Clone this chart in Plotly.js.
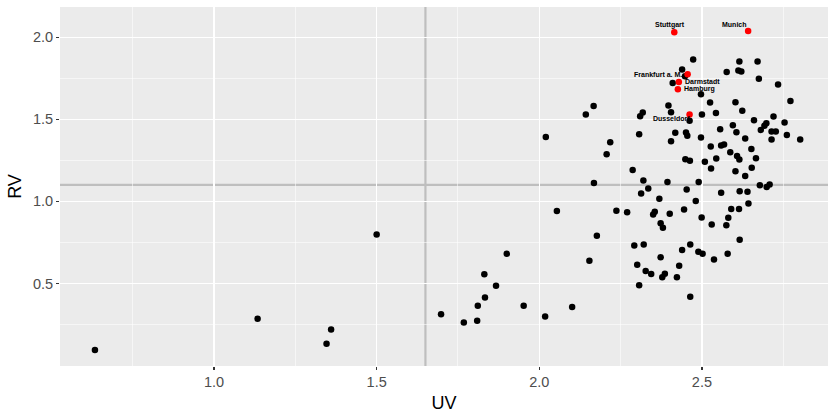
<!DOCTYPE html>
<html>
<head>
<meta charset="utf-8">
<script src="https://cdn.plot.ly/plotly-3.0.1.min.js"></script>
<style>
  html, body { margin: 0; padding: 0; background: #ffffff; }
  #chart { width: 828px; height: 413px; }
</style>
</head>
<body>
<div id="chart"></div>
<script>
// ---- data ----
const uv = [
  2.473, 2.439, 2.448, 2.410, 2.167, 2.143, 2.397, 2.405, 2.318, 2.310,
  2.462, 2.307, 2.418, 2.451, 2.455, 2.405, 2.218, 2.207, 2.449, 2.463,
  2.615, 2.671, 2.576, 2.612, 2.621, 2.675, 2.734, 2.497, 2.525, 2.603,
  2.624, 2.772, 2.500, 2.543, 2.660, 2.720, 2.754, 2.698, 2.692, 2.681,
  2.714, 2.727, 2.595, 2.556, 2.606, 2.761, 2.497, 2.633, 2.714, 2.802,
  2.527, 2.559, 2.568, 2.587, 2.652, 2.608, 2.615, 2.544, 2.666, 2.509,
  2.528, 2.603, 2.653, 2.633, 2.287, 2.320, 2.394, 2.490, 2.335, 2.453,
  2.313, 2.559, 2.616, 2.640, 2.678, 2.699, 2.708, 2.369, 2.481, 2.643,
  2.237, 2.270, 2.355, 2.350, 2.401, 2.445, 2.590, 2.614, 2.499, 2.581,
  2.373, 2.380, 2.530, 2.575, 2.616, 2.292, 2.321, 2.439, 2.464, 2.489,
  2.502, 2.373, 2.537, 2.579, 2.168, 2.054, 2.177, 2.154, 2.301, 2.327,
  2.344, 2.430, 2.378, 2.386, 2.423, 2.307, 2.464, 2.020, 1.900, 1.831,
  1.867, 1.833, 1.811, 1.698, 1.768, 1.809, 1.952, 2.018, 2.101, 0.634,
  1.134, 1.360, 1.346, 1.500
];
const rv = [
  1.864, 1.803, 1.762, 1.721, 1.580, 1.529, 1.584, 1.543, 1.541, 1.518,
  1.490, 1.409, 1.418, 1.419, 1.399, 1.366, 1.360, 1.287, 1.256, 1.247,
  1.852, 1.851, 1.788, 1.797, 1.790, 1.747, 1.712, 1.652, 1.601, 1.604,
  1.552, 1.611, 1.529, 1.538, 1.494, 1.517, 1.480, 1.476, 1.460, 1.435,
  1.425, 1.425, 1.463, 1.439, 1.420, 1.404, 1.388, 1.383, 1.376, 1.377,
  1.334, 1.340, 1.346, 1.299, 1.318, 1.276, 1.255, 1.261, 1.263, 1.241,
  1.200, 1.183, 1.204, 1.154, 1.191, 1.127, 1.118, 1.118, 1.079, 1.072,
  1.048, 1.053, 1.062, 1.058, 1.098, 1.087, 1.102, 1.016, 1.002, 0.987,
  0.943, 0.934, 0.937, 0.920, 0.925, 0.951, 0.954, 0.954, 0.902, 0.901,
  0.867, 0.840, 0.859, 0.855, 0.767, 0.732, 0.737, 0.704, 0.737, 0.693,
  0.681, 0.660, 0.646, 0.681, 1.112, 0.941, 0.790, 0.639, 0.615, 0.576,
  0.558, 0.608, 0.538, 0.559, 0.538, 0.490, 0.419, 1.392, 0.681, 0.557,
  0.486, 0.415, 0.364, 0.313, 0.262, 0.274, 0.364, 0.299, 0.357, 0.096,
  0.285, 0.220, 0.134, 0.799
];
const cities = ["Stuttgart", "Munich", "Frankfurt a. M.", "Darmstadt", "Hamburg", "Dusseldorf"];
const cityUV = [2.415, 2.642, 2.456, 2.429, 2.426, 2.462];
const cityRV = [2.029, 2.037, 1.774, 1.727, 1.683, 1.529];
const uvRef = 1.65;
const rvRef = 1.1;
const xTicks = [1.0, 1.5, 2.0, 2.5];
const yTicks = [0.5, 1.0, 1.5, 2.0];

// ---- label placement (styling) ----
const labelStyle = {
  "Stuttgart":       {xanchor: "center", xshift: -4,  yshift: 7},
  "Munich":          {xanchor: "center", xshift: -14, yshift: 6},
  "Frankfurt a. M.": {xanchor: "right",  xshift: -4,  yshift: 0},
  "Darmstadt":       {xanchor: "left",   xshift: 4,   yshift: 0},
  "Hamburg":         {xanchor: "left",   xshift: 4,   yshift: 0},
  "Dusseldorf":      {xanchor: "right",  xshift: 2,   yshift: -4}
};

const font = "Liberation Sans, Arial, sans-serif";

const traces = [
  {
    type: "scatter", mode: "markers", x: uv, y: rv,
    marker: {color: "#000000", size: 6.5, line: {width: 0}},
    hoverinfo: "skip", showlegend: false
  },
  {
    type: "scatter", mode: "markers", x: cityUV, y: cityRV, text: cities,
    marker: {color: "#FF0000", size: 6.5, line: {width: 0}},
    hoverinfo: "skip", showlegend: false
  }
];

const annotations = cities.map((c, i) => Object.assign({
  x: cityUV[i], y: cityRV[i], xref: "x", yref: "y",
  text: "<b>" + c + "</b>", showarrow: false, yanchor: "middle",
  font: {family: font, size: 7, color: "#000000"}
}, labelStyle[c]));

const axisCommon = {
  showgrid: true, gridcolor: "#FFFFFF", gridwidth: 1.1,
  zeroline: false, showline: false,
  ticks: "outside", ticklen: 3, tickwidth: 1.1, tickcolor: "#333333",
  tickfont: {family: font, size: 14.5, color: "#4D4D4D"},
  tickformat: ".1f",
  minor: {showgrid: true, gridcolor: "#FFFFFF", gridwidth: 0.55, ticks: ""}
};

const layout = {
  width: 828, height: 413,
  margin: {l: 60, r: 0, t: 7, b: 47, pad: 0},
  paper_bgcolor: "#FFFFFF", plot_bgcolor: "#EBEBEB",
  showlegend: false,
  xaxis: Object.assign({}, axisCommon, {
    range: [0.5266, 2.8875],
    tickmode: "array", tickvals: xTicks,
    minor: Object.assign({}, axisCommon.minor, {tickmode: "array", tickvals: [0.75, 1.25, 1.75, 2.25, 2.75]}),
    title: {text: "UV", font: {family: font, size: 18, color: "#000000"}, standoff: 6}
  }),
  yaxis: Object.assign({}, axisCommon, {
    range: [-0.002, 2.183],
    tickmode: "array", tickvals: yTicks,
    minor: Object.assign({}, axisCommon.minor, {tickmode: "array", tickvals: [0.25, 0.75, 1.25, 1.75]}),
    title: {text: "RV", font: {family: font, size: 18, color: "#000000"}, standoff: 6}
  }),
  shapes: [
    {type: "line", xref: "x", yref: "paper", x0: uvRef, x1: uvRef, y0: 0, y1: 1,
     line: {color: "#BEBEBE", width: 2.2}, layer: "between"},
    {type: "line", xref: "paper", yref: "y", x0: 0, x1: 1, y0: rvRef, y1: rvRef,
     line: {color: "#BEBEBE", width: 2.2}, layer: "between"}
  ],
  annotations: annotations
};

Plotly.newPlot("chart", traces, layout, {displayModeBar: false, staticPlot: true});
</script>
</body>
</html>
